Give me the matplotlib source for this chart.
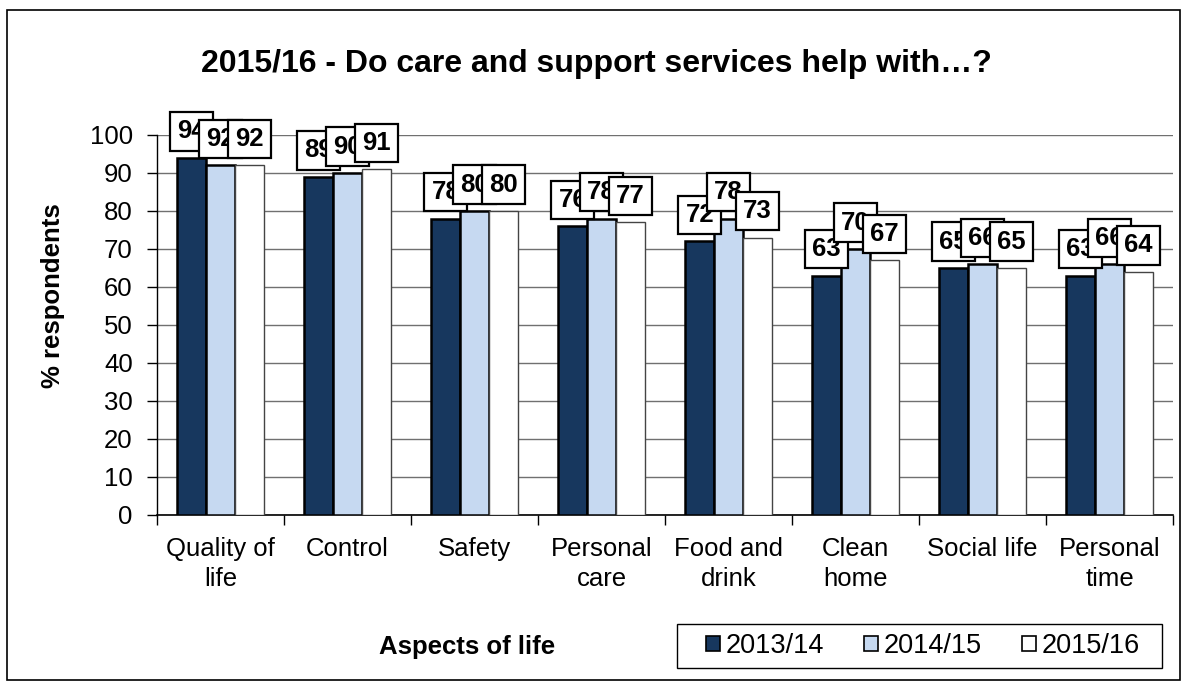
import matplotlib
matplotlib.use("Agg")
import matplotlib.pyplot as plt
from matplotlib.patches import Patch, Rectangle
import numpy as np

plt.rcParams['font.family'] = ['Liberation Sans', 'DejaVu Sans']

categories = ["Quality of\nlife", "Control", "Safety", "Personal\ncare",
              "Food and\ndrink", "Clean\nhome", "Social life", "Personal\ntime"]
years = ["2013/14", "2014/15", "2015/16"]
values_2013 = [94, 89, 78, 76, 72, 63, 65, 63]
values_2014 = [92, 90, 80, 78, 78, 70, 66, 66]
values_2015 = [92, 91, 80, 77, 73, 67, 65, 64]
series = [values_2013, values_2014, values_2015]
colors = ["#17375E", "#C6D9F1", "#FFFFFF"]

W, H = 1189, 688
fig = plt.figure(figsize=(W / 100, H / 100), dpi=100)

# outer chart border
fig.patches.append(Rectangle((7 / W, 8 / H), 1173 / W, 670 / H,
                             transform=fig.transFigure, fill=False,
                             edgecolor="black", linewidth=1.2))

ax = fig.add_axes([157 / W, 1 - 515 / H, 1016 / W, 380 / H])

x = np.arange(len(categories))
bw = 0.226
offsets = [-bw, 0, bw]
for i, (vals, col) in enumerate(zip(series, colors)):
    edge_lw = 1.8 if i < 2 else 1.0
    edge_col = "black" if i < 2 else "#444444"
    ax.bar(x + offsets[i], vals, width=bw, color=col,
           edgecolor=edge_col, linewidth=edge_lw, zorder=3, label=years[i])
    for xi, v in zip(x + offsets[i], vals):
        ax.annotate(str(v), xy=(xi, v), xytext=(0, 19), textcoords="offset points",
                    ha="center", va="center", fontsize=18.5, fontweight="bold",
                    zorder=5 + i,
                    bbox=dict(boxstyle="square,pad=0.28", facecolor="white",
                              edgecolor="black", linewidth=1.6))

ax.set_xlim(-0.5, len(categories) - 0.5)
ax.set_ylim(0, 100)
ax.set_yticks(np.arange(0, 101, 10))
ax.yaxis.grid(True, color="#707070", linewidth=1.0, zorder=0)
ax.set_axisbelow(True)

ax.set_xticks(x)
ax.set_xticklabels(categories, fontsize=18.5, linespacing=1.3)
ax.set_xticks(np.arange(-0.5, len(categories), 1), minor=True)
ax.tick_params(axis="x", which="major", length=0, pad=16)
ax.tick_params(axis="x", which="minor", length=7, width=1.0, direction="out", color="black")
ax.tick_params(axis="y", length=7, width=1.0, direction="out", labelsize=18.5, pad=10.5)

for s in ["top", "right"]:
    ax.spines[s].set_visible(False)
ax.spines["left"].set_linewidth(1.0)
ax.spines["bottom"].set_linewidth(1.2)

fig.text(596 / W, 1 - 64 / H, "2015/16 - Do care and support services help with…?",
         ha="center", va="center", fontsize=23, fontweight="bold")
fig.text(53 / W, 1 - 296 / H, "% respondents", rotation=90,
         ha="center", va="center", fontsize=18.5, fontweight="bold")
fig.text(467 / W, 1 - 647 / H, "Aspects of life",
         ha="center", va="center", fontsize=18.5, fontweight="bold")

# legend entries with a separate frame
fig.patches.append(Rectangle((677 / W, 1 - 668 / H), 485 / W, 44 / H,
                             transform=fig.transFigure, fill=False,
                             edgecolor="black", linewidth=1.0))
handles = [Patch(facecolor=c, edgecolor="black", linewidth=1.2) for c in colors]
fig.legend(handles, years, loc="center", ncol=3,
           bbox_to_anchor=(923 / W, 1 - 646 / H),
           fontsize=19.5, frameon=False,
           handlelength=0.52, handleheight=0.52, handletextpad=0.19,
           columnspacing=1.5, borderpad=0, borderaxespad=0)

fig.savefig("out.png", dpi=100)
